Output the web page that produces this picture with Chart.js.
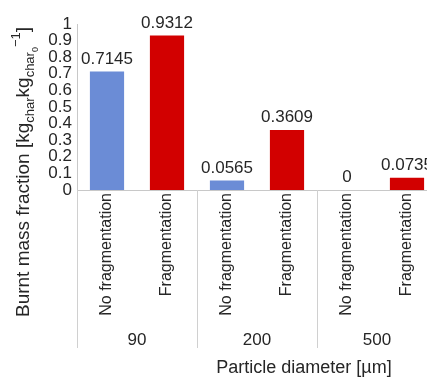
<!DOCTYPE html>
<html>
<head>
<meta charset="utf-8">
<script src="https://cdn.jsdelivr.net/npm/chart.js@4.4.0/dist/chart.umd.min.js"></script>
<style>
  html, body { margin: 0; padding: 0; background: #fff; overflow: hidden; }
  #wrap { width: 437px; height: 381px; }
</style>
</head>
<body>
<div id="wrap"><canvas id="chart" width="437" height="381"></canvas></div>
<script>
// particle sizes (outer group) and cases (inner category)
const sizes = ['90', '200', '500'];
const cases = ['No fragmentation', 'Fragmentation'];
// burnt mass fraction per size
const noFragValues = [0.7145, 0.0565, 0];
const fragValues = [0.9312, 0.3609, 0.0735];
const yTickLabels = ['0', '0.1', '0.2', '0.3', '0.4', '0.5', '0.6', '0.7', '0.8', '0.9', '1'];
const xTitle = 'Particle diameter [µm]';

const blue = '#6B8CD6';
const red = '#D20000';
const textColor = '#262626';
const font = '"Liberation Sans", Arial, sans-serif';

// flatten into 6 bars: size x case
const labels = [];
const values = [];
const colors = [];
sizes.forEach((s, i) => {
  labels.push(cases[0], cases[1]);
  values.push(noFragValues[i], fragValues[i]);
  colors.push(blue, red);
});

// value labels above bars
const valueLabels = {
  id: 'valueLabels',
  afterDatasetsDraw(chart) {
    const ctx = chart.ctx;
    const meta = chart.getDatasetMeta(0);
    ctx.save();
    ctx.font = '17px ' + font;
    ctx.fillStyle = textColor;
    ctx.textAlign = 'center';
    ctx.textBaseline = 'bottom';
    meta.data.forEach((bar, i) => {
      ctx.fillText(String(values[i]), bar.x, bar.y - 4);
    });
    ctx.restore();
  }
};

// group separators, group labels, axis titles
const groupAxis = {
  id: 'groupAxis',
  afterDraw(chart) {
    const ctx = chart.ctx;
    const x = chart.scales.x;
    const area = chart.chartArea;
    const half = (x.getPixelForValue(1) - x.getPixelForValue(0)) / 2;
    ctx.save();
    ctx.strokeStyle = '#d0d0d0';
    ctx.lineWidth = 1;
    for (let g = 0; g < sizes.length; g++) {
      const left = Math.round(x.getPixelForValue(g * 2) - half) + 0.5;
      ctx.beginPath();
      ctx.moveTo(left, area.bottom);
      ctx.lineTo(left, area.bottom + 158);
      ctx.stroke();
    }
    ctx.font = '17px ' + font;
    ctx.fillStyle = textColor;
    ctx.textAlign = 'center';
    ctx.textBaseline = 'middle';
    sizes.forEach((s, g) => {
      const cx = (x.getPixelForValue(g * 2) + x.getPixelForValue(g * 2 + 1)) / 2;
      ctx.fillText(s, cx, area.bottom + 150);
    });
    ctx.font = '18px ' + font;
    ctx.fillText(xTitle, 304, area.bottom + 178);

    // y title with sub/superscripts, rotated
    const parts = [
      ['Burnt mass fraction [kg', 19, 0],
      ['char', 13, 5],
      ['kg', 19, 0],
      ['char', 13, 5],
      ['0', 9, 9],
      ['\u22121', 13, -9],
      [']', 19, 0]
    ];
    let total = 0;
    parts.forEach(p => {
      ctx.font = p[1] + 'px ' + font;
      total += ctx.measureText(p[0]).width;
    });
    ctx.translate(29, 172 + total / 2);
    ctx.rotate(-Math.PI / 2);
    ctx.textAlign = 'left';
    ctx.textBaseline = 'alphabetic';
    let pos = 0;
    parts.forEach(p => {
      ctx.font = p[1] + 'px ' + font;
      ctx.fillText(p[0], pos, p[2]);
      pos += ctx.measureText(p[0]).width;
    });
    ctx.restore();
  }
};

new Chart(document.getElementById('chart'), {
  type: 'bar',
  data: {
    labels: labels,
    datasets: [{
      data: values,
      backgroundColor: colors,
      borderWidth: 0,
      barPercentage: 0.57,
      categoryPercentage: 1
    }]
  },
  options: {
    responsive: false,
    animation: false,
    devicePixelRatio: 1,
    layout: { padding: { top: 24, left: 0, right: 0, bottom: 0 } },
    plugins: {
      legend: { display: false },
      tooltip: { enabled: false }
    },
    scales: {
      x: {
        grid: { display: false, drawTicks: false },
        border: { display: true, color: '#c8c8c8' },
        ticks: {
          color: textColor,
          font: { family: font, size: 16 },
          minRotation: 90,
          maxRotation: 90,
          autoSkip: false,
          padding: 3
        },
        afterFit(scale) { scale.height = 191; }
      },
      y: {
        min: 0,
        max: 1,
        grid: { display: false, drawTicks: false },
        border: { display: true, color: '#c8c8c8' },
        ticks: {
          stepSize: 0.1,
          autoSkip: false,
          color: textColor,
          font: { family: font, size: 17 },
          padding: 5,
          callback: (v, i) => yTickLabels[i]
        },
        afterFit(scale) { scale.width = 77; }
      }
    }
  },
  plugins: [valueLabels, groupAxis]
});
</script>
</body>
</html>
